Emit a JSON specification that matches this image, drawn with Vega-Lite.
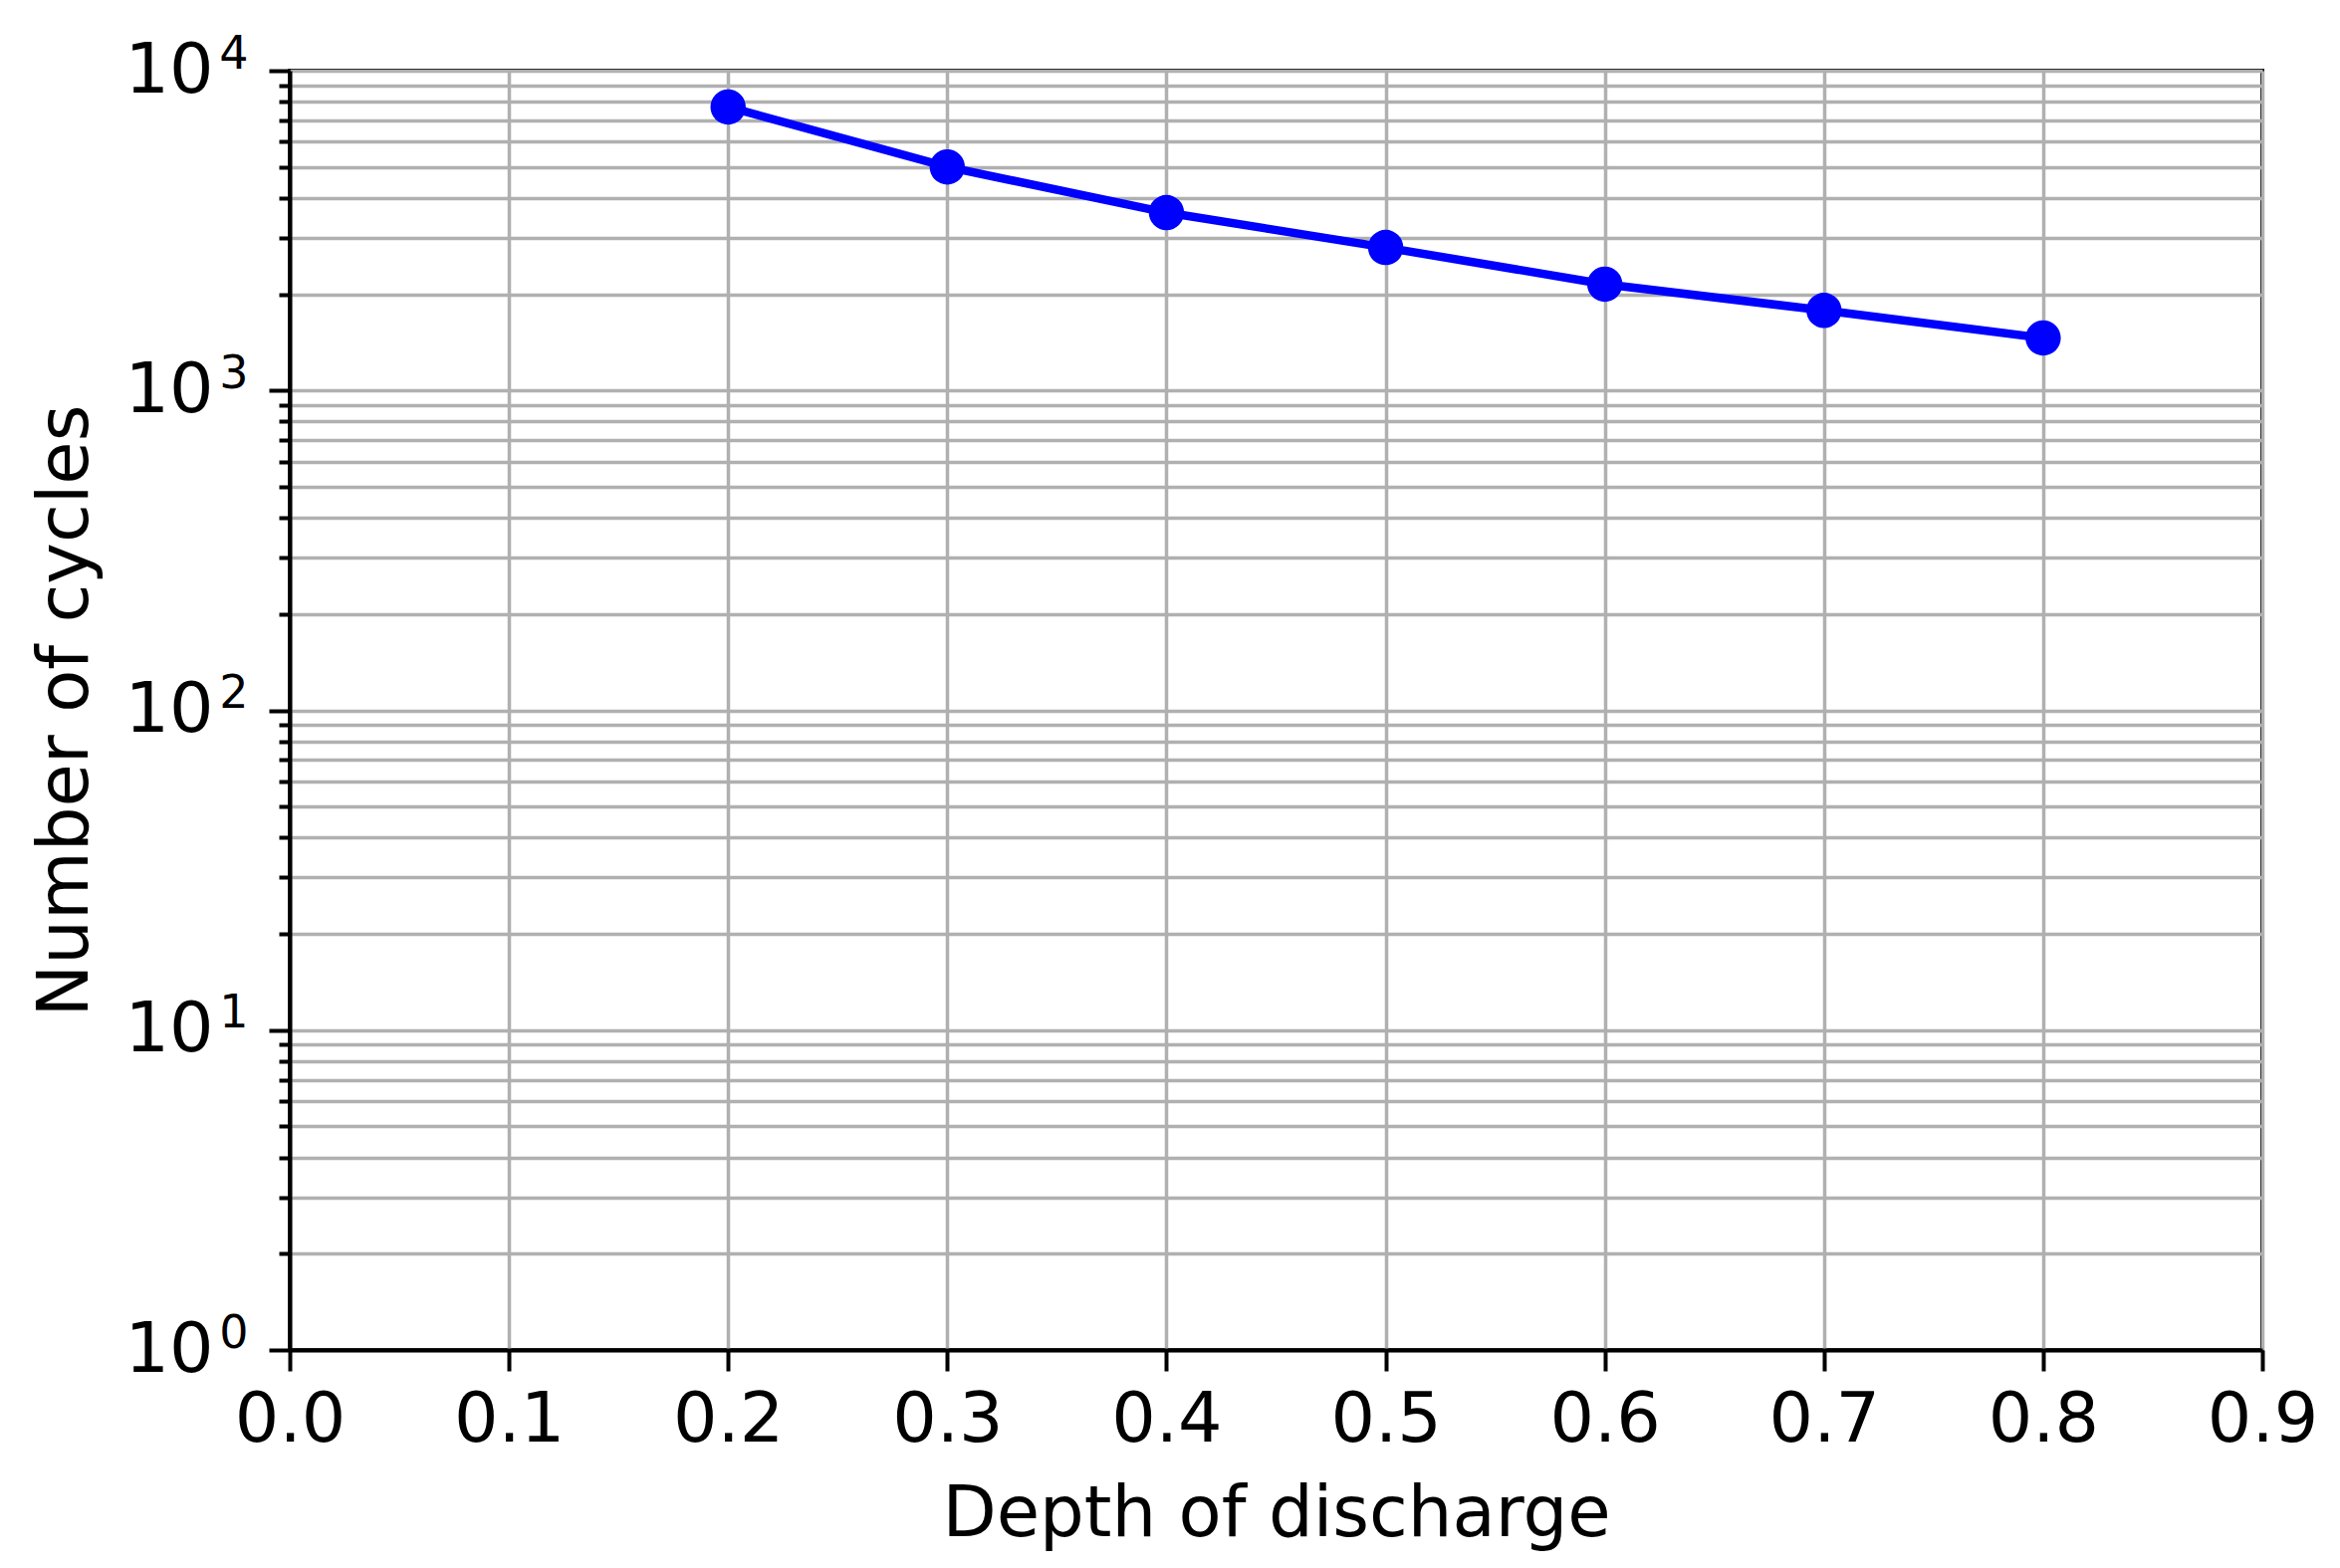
{
  "$schema": "https://vega.github.io/schema/vega-lite/v6.json",
  "autosize": {"type": "none"},
  "width": 1981,
  "height": 1285,
  "padding": {"left": 291, "top": 71, "right": 78, "bottom": 219},
  "background": "white",
  "config": {
    "view": {"stroke": "black", "strokeWidth": 4},
    "font": "DejaVu Sans",
    "axis": {
      "labelFont": "DejaVu Sans",
      "titleFont": "DejaVu Sans",
      "labelFontSize": 70,
      "titleFontSize": 70.5,
      "titleFontWeight": "normal",
      "labelColor": "black",
      "titleColor": "black",
      "domainColor": "black",
      "domainWidth": 4,
      "tickColor": "black",
      "tickWidth": 4,
      "gridColor": "#b0b0b0",
      "gridWidth": 3.5,
      "gridOpacity": 1,
      "labelOverlap": false,
      "labelFlush": false,
      "labelBound": false
    }
  },
  "data": {
    "values": [
      {"dod": 0.2, "cycles": 7700},
      {"dod": 0.3, "cycles": 5000},
      {"dod": 0.4, "cycles": 3600},
      {"dod": 0.5, "cycles": 2800},
      {"dod": 0.6, "cycles": 2150},
      {"dod": 0.7, "cycles": 1780},
      {"dod": 0.8, "cycles": 1460}
    ]
  },
  "encoding": {
    "x": {
      "field": "dod",
      "type": "quantitative",
      "scale": {"domain": [0, 0.9], "nice": false, "zero": false},
      "axis": {
        "title": "Depth of discharge",
        "values": [0, 0.1, 0.2, 0.3, 0.4, 0.5, 0.6, 0.7, 0.8, 0.9],
        "format": ".1f",
        "tickSize": 21,
        "labelPadding": 15,
        "titlePadding": 25,
        "grid": true
      }
    }
  },
  "layer": [
    {
      "mark": {"type": "line", "color": "#0000ff", "strokeWidth": 8.5},
      "encoding": {
        "y": {
          "field": "cycles",
          "type": "quantitative",
          "scale": {"type": "log", "domain": [1, 10000], "nice": false},
          "axis": {
            "orient": "left",
            "title": "Number of cycles",
            "values": [1,2,3,4,5,6,7,8,9,10,20,30,40,50,60,70,80,90,100,200,300,400,500,600,700,800,900,1000,2000,3000,4000,5000,6000,7000,8000,9000,10000],
            "labelExpr": "indexof([1,10,100,1000,10000], datum.value) >= 0 ? '10' : ''",
            "tickSize": {"condition": {"test": "indexof([1,10,100,1000,10000], datum.value) >= 0", "value": 21}, "value": 11},
            "labelPadding": 56,
            "titlePadding": 22,
            "grid": true
          }
        }
      }
    },
    {
      "mark": {"type": "point", "filled": true, "color": "#0000ff", "opacity": 1, "size": 1257, "shape": "circle"},
      "encoding": {
        "y": {
          "field": "cycles",
          "type": "quantitative",
          "scale": {"type": "log", "domain": [1, 10000], "nice": false},
          "axis": {
            "orient": "left",
            "title": null,
            "values": [1, 10, 100, 1000, 10000],
            "labelExpr": "['0','1','2','3','4'][round(log(datum.value)/LN10)]",
            "labelFontSize": 46,
            "labelOffset": -17,
            "labelPadding": 21,
            "tickSize": 21,
            "tickOpacity": 0,
            "domain": false,
            "grid": false
          }
        }
      }
    }
  ],
  "resolve": {"axis": {"y": "independent"}}
}
